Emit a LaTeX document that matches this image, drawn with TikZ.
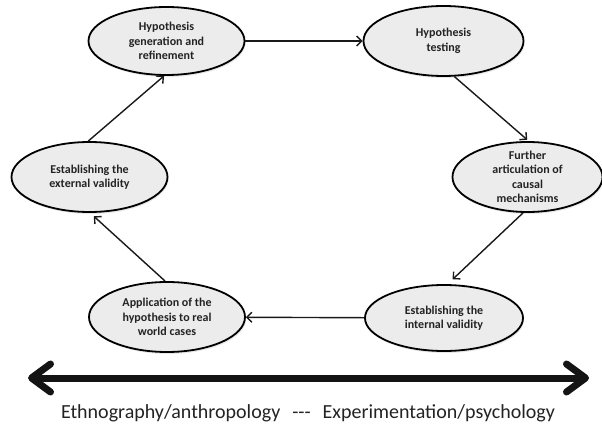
\documentclass[tikz,border=0pt]{standalone}
\usepackage{fontspec}
\setmainfont{Carlito}
\usetikzlibrary{shapes.geometric,arrows.meta,shadows}
\definecolor{ellfill}{RGB}{236,236,236}
\definecolor{inkgray}{RGB}{35,35,35}
\begin{document}
\begin{tikzpicture}[x=1pt,y=-1pt,
  stage/.style={ellipse,draw=black,line width=1.8pt,fill=ellfill,
    inner xsep=0pt,inner ysep=-8pt,align=center,text=inkgray,
    font=\bfseries\fontsize{12}{14.5}\selectfont,
    drop shadow={opacity=0.18,shadow xshift=1pt,shadow yshift=-2pt}},
  flow/.style={line width=1.4pt,draw=black!90,-{Straight Barb[length=5pt,width=10pt]}},
  axisline/.style={line width=7pt,draw=black!92,
    {Straight Barb[length=19pt,width=28pt,round]}-{Straight Barb[length=19pt,width=28pt,round]}}
]
\useasboundingbox (0,0) rectangle (602,427);

\node[stage,minimum width=156pt,minimum height=68pt] (E1) at (166.5,41) {Hypothesis\\generation and\\refinement};
\node[stage,minimum width=160pt,minimum height=70pt] (E2) at (443.5,41) {Hypothesis\\testing};
\node[stage,minimum width=150pt,minimum height=70pt] (E3) at (527.5,177) {Further\\articulation of\\causal\\mechanisms};
\node[stage,minimum width=156pt,minimum height=70pt] (E4) at (89.5,177) {Establishing the\\external validity};
\node[stage,minimum width=156pt,minimum height=70pt] (E5) at (167,317) {Application of the\\hypothesis to real\\world cases};
\node[stage,minimum width=158pt,minimum height=66pt] (E6) at (444,318) {Establishing the\\internal validity};

\draw[flow] (E1) -- (E2);
\draw[flow,shorten >=2pt] (E2.-73) -- (E3.88);
\draw[flow,shorten >=7pt] (E3.-97) -- (E6.84);
\draw[flow] (E6) -- (E5);
\draw[flow,shorten >=5pt] (E5.93) -- (E4.-89);
\draw[flow] (E4.92) -- (E1.-94);

\coordinate (L) at (28,378);
\coordinate (R) at (589,378);
\draw[axisline] (L) -- (R);

\node[text=inkgray,font=\fontsize{20}{23}\selectfont,inner sep=0pt] (T) at (308,413)
  {Ethnography/anthropology\hspace{12pt}-{}-{}-\hspace{12pt}Experimentation/psychology};
\end{tikzpicture}
\end{document}
